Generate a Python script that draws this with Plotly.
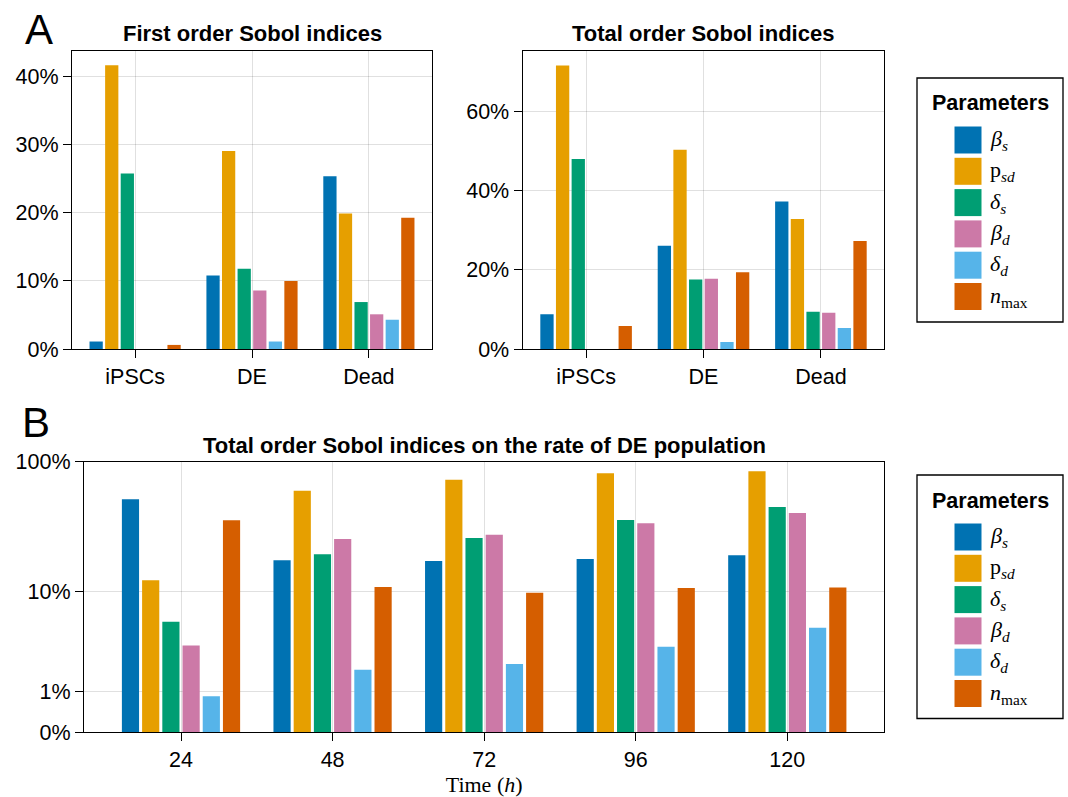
import math
import plotly.graph_objects as go

# ---------------- data ----------------
params = ["beta_s", "p_sd", "delta_s", "beta_d", "delta_d", "n_max"]
param_labels = [
    "<i>β</i><sub><i>s</i></sub>",
    "p<sub><i>sd</i></sub>",
    "<i>δ</i><sub><i>s</i></sub>",
    "<i>β</i><sub><i>d</i></sub>",
    "<i>δ</i><sub><i>d</i></sub>",
    "<i>n</i><sub>max</sub>",
]
colors = ["#0072B2", "#E69F00", "#009E73", "#CC79A7", "#56B4E9", "#D55E00"]

populations = ["iPSCs", "DE", "Dead"]
pop_pos = [1, 2, 3]

# First order Sobol indices (%), rows = params, cols = populations
first_order = {
    "beta_s":  [1.1, 10.8, 25.4],
    "p_sd":    [41.7, 29.1, 19.9],
    "delta_s": [25.8, 11.8, 6.9],
    "beta_d":  [0.0, 8.6, 5.1],
    "delta_d": [0.0, 1.1, 4.3],
    "n_max":   [0.6, 10.0, 19.3],
}
first_ticks = [0, 10, 20, 30, 40]
# Total order Sobol indices (%)
total_order = {
    "beta_s":  [8.8, 26.1, 37.3],
    "p_sd":    [71.7, 50.4, 32.9],
    "delta_s": [48.1, 17.6, 9.4],
    "beta_d":  [0.0, 17.8, 9.2],
    "delta_d": [0.0, 1.8, 5.3],
    "n_max":   [5.8, 19.4, 27.3],
}
total_ticks = [0, 20, 40, 60]

times = [24, 48, 72, 96, 120]
# Total order Sobol indices on the rate of DE population (%)
rate_total = {
    "beta_s":  [52.2, 17.8, 17.6, 18.2, 19.5],
    "p_sd":    [12.4, 60.6, 73.3, 81.9, 84.8],
    "delta_s": [5.6, 19.8, 26.5, 36.4, 45.7],
    "beta_d":  [3.4, 26.0, 28.1, 34.3, 41.1],
    "delta_d": [0.85, 1.9, 2.2, 3.3, 4.95],
    "n_max":   [36.2, 10.9, 9.8, 10.7, 10.8],
}
log_ticks = [0, 1, 10, 100]


def pseudolog10(v):
    return math.log10(1 + v)


def pct(v):
    return f"{v:g}%"


# ---------------- layout helpers ----------------
W, H = 1068, 797


def px(x):
    return x / W


def py(y):
    return 1 - y / H


FONT = "Liberation Sans, Arial, sans-serif"
SERIF = "Liberation Serif, DejaVu Serif, serif"
TICKSIZE = 21.5
GRID = "rgba(0,0,0,0.12)"

fig = go.Figure()

for i, p in enumerate(params):
    fig.add_trace(go.Bar(
        x=pop_pos, y=first_order[p], name=p, marker_color=colors[i],
        marker_line_width=0, xaxis="x", yaxis="y", showlegend=False,
        hovertemplate="%{y}%<extra>" + p + "</extra>"))
for i, p in enumerate(params):
    fig.add_trace(go.Bar(
        x=pop_pos, y=total_order[p], name=p, marker_color=colors[i],
        marker_line_width=0, xaxis="x2", yaxis="y2", showlegend=False,
        hovertemplate="%{y}%<extra>" + p + "</extra>"))
for i, p in enumerate(params):
    fig.add_trace(go.Bar(
        x=times, y=[pseudolog10(v) for v in rate_total[p]], name=p,
        customdata=rate_total[p], marker_color=colors[i],
        marker_line_width=0, xaxis="x3", yaxis="y3", showlegend=False,
        hovertemplate="%{customdata}%<extra>" + p + "</extra>"))

axis_common = dict(
    showline=True, mirror=True, linecolor="black", linewidth=1.33,
    ticks="outside", ticklen=8, tickwidth=1.33, tickcolor="black",
    showgrid=True, gridcolor=GRID, gridwidth=1.33, zeroline=False,
    automargin=False,
    tickfont=dict(family=FONT, size=TICKSIZE, color="black"),
)

top_y = [py(349), py(51)]
fig.update_layout(
    template="none",
    width=W, height=H,
    margin=dict(l=0, r=0, t=0, b=0, pad=0),
    paper_bgcolor="white", plot_bgcolor="white",
    barmode="group", bargap=0.2, bargroupgap=0.15,
    showlegend=False,
    xaxis=dict(domain=[px(72), px(432)], range=[0.46, 3.54],
               tickvals=pop_pos, ticktext=populations, anchor="y", **axis_common),
    yaxis=dict(domain=top_y, range=[0, 43.8], tickvals=first_ticks,
               ticktext=[pct(t) for t in first_ticks], anchor="x", **axis_common),
    xaxis2=dict(domain=[px(522.7), px(884.3)], range=[0.46, 3.54],
                tickvals=pop_pos, ticktext=populations, anchor="y2", **axis_common),
    yaxis2=dict(domain=top_y, range=[0, 75.4], tickvals=total_ticks,
                ticktext=[pct(t) for t in total_ticks], anchor="x2", **axis_common),
    xaxis3=dict(domain=[px(84), px(884.3)], range=[8.64, 135.36],
                tickvals=times, ticktext=[str(t) for t in times], anchor="y3",
                title=dict(text="Time (<i>h</i>)", font=dict(family=SERIF, size=22, color="black"),
                           standoff=6),
                **axis_common),
    yaxis3=dict(domain=[py(732.3), py(461.7)], range=[0, pseudolog10(100)],
                tickvals=[pseudolog10(t) for t in log_ticks], ticktext=[pct(t) for t in log_ticks],
                anchor="x3", **axis_common),
)

annotations = []
shapes = []

# panel titles
for text, x, y in [("First order Sobol indices", 252, 33),
                   ("Total order Sobol indices", 703, 33),
                   ("Total order Sobol indices on the rate of DE population", 484, 445)]:
    annotations.append(dict(text="<b>" + text + "</b>", x=px(x), y=py(y), xref="paper", yref="paper",
                            xanchor="center", yanchor="middle", showarrow=False,
                            font=dict(family=FONT, size=22, color="black")))
# panel letters
for text, x, y in [("A", 39, 29), ("B", 36, 422)]:
    annotations.append(dict(text=text, x=px(x), y=py(y), xref="paper", yref="paper",
                            xanchor="center", yanchor="middle", showarrow=False,
                            font=dict(family=FONT, size=42, color="black")))

# custom legends (drawn to match the reference's large patches)
for box_top, box_bot, title_y, first_row in [(78, 322, 103, 140), (475, 718.5, 501, 537)]:
    shapes.append(dict(type="rect", xref="paper", yref="paper",
                       x0=px(917), x1=px(1063), y0=py(box_bot), y1=py(box_top),
                       line=dict(color="black", width=1.33), fillcolor="white", layer="below"))
    annotations.append(dict(text="<b>Parameters</b>", x=px(990), y=py(title_y), xref="paper",
                            yref="paper", xanchor="center", yanchor="middle", showarrow=False,
                            font=dict(family=FONT, size=21.5, color="black")))
    for i, lab in enumerate(param_labels):
        yc = first_row + i * 31.3
        shapes.append(dict(type="rect", xref="paper", yref="paper",
                           x0=px(954.5), x1=px(981.5), y0=py(yc + 13.5), y1=py(yc - 13.5),
                           line=dict(width=0), fillcolor=colors[i]))
        annotations.append(dict(text=lab, x=px(988), y=py(yc), xref="paper", yref="paper",
                                xanchor="left", yanchor="middle", showarrow=False,
                                font=dict(family=SERIF, size=22, color="black")))

fig.update_layout(annotations=annotations, shapes=shapes)

fig.write_html("out.html", config={"displayModeBar": False},
               post_script="document.body.style.margin='0';document.body.style.overflow='hidden';")
